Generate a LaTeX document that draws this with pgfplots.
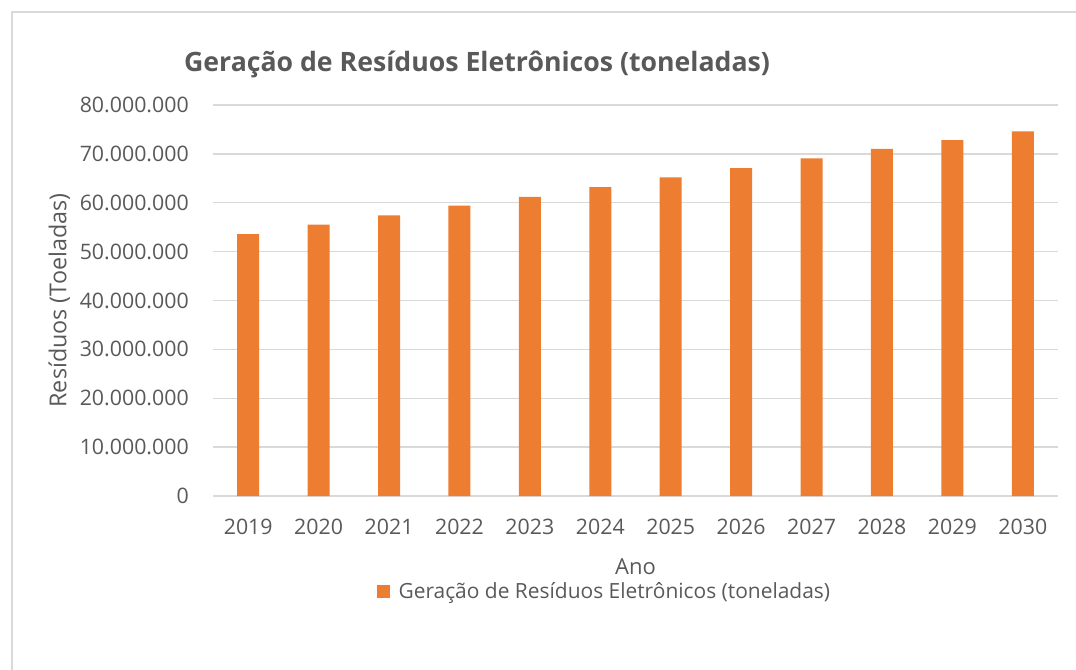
\documentclass[border=0pt]{standalone}
\usepackage{pgfplots}
\pgfplotsset{compat=1.18}
\usepackage{fontspec}
\setmainfont{Open Sans}
\definecolor{orng}{HTML}{ED7D31}
\definecolor{txt}{HTML}{595959}
\definecolor{grd}{HTML}{D9D9D9}
\begin{document}
\begin{tikzpicture}
\path[use as bounding box] (0,0) rectangle (807pt,501.75pt);
\draw[grd, line width=1.5pt] (9pt,-2pt) -- (9pt,492.75pt) -- (810pt,492.75pt);
\begin{axis}[
  at={(159.75pt,129.75pt)}, anchor=south west,
  scale only axis, width=633.75pt, height=293.25pt,
  xmin=-0.5, xmax=11.5, ymin=0, ymax=80000000,
  xtick={0,1,2,3,4,5,6,7,8,9,10,11},
  xticklabels={2019,2020,2021,2022,2023,2024,2025,2026,2027,2028,2029,2030},
  ytick={0,10000000,20000000,30000000,40000000,50000000,60000000,70000000,80000000},
  scaled y ticks=false,
  ymajorgrids, grid style={grd, line width=1pt},
  axis line style={draw=none}, tick style={draw=none},
  yticklabel style={/pgf/number format/fixed, /pgf/number format/1000 sep={.},
    /pgf/number format/assume math mode=true,
    anchor=east, inner sep=0pt, xshift=-18pt, font=\fontsize{16}{19}\selectfont, text=txt},
  xticklabel style={anchor=center, inner sep=0pt, yshift=-23.25pt,
    /pgf/number format/assume math mode=true,
    font=\fontsize{16}{19}\selectfont, text=txt},
  title={Geração de Resíduos Eletrônicos (toneladas)},
  title style={at={(axis description cs:0.3125,1.066)}, anchor=base, inner sep=0pt,
    font=\fontsize{20}{24}\selectfont\bfseries, text=txt},
  xlabel={Ano},
  xlabel style={at={(axis description cs:0.5,-0.202)}, anchor=base, inner sep=0pt,
    font=\fontsize{16.5}{19}\selectfont, text=txt},
  ylabel={Resíduos (Toeladas)},
  ylabel style={at={(axis description cs:-0.182,0.5)}, anchor=center, inner sep=0pt,
    font=\fontsize{17.5}{20}\selectfont, text=txt},
  legend style={at={(axis description cs:0.194,-0.243)}, anchor=west, draw=none,
    inner sep=0pt, fill=none, font=\fontsize{15.7}{19}\selectfont, text=txt,
    /tikz/every even column/.append style={column sep=0pt}},
  legend cell align=left,
]
\addplot[ybar, bar width=16.5pt, fill=orng, draw=none,
  legend image code/.code={\fill[orng] (0pt,-5pt) rectangle (9.75pt,4.75pt); \path (14pt,0pt);}]
  coordinates {
  (0,53600000) (1,55500000) (2,57400000) (3,59400000)
  (4,61200000) (5,63200000) (6,65200000) (7,67100000)
  (8,69100000) (9,71000000) (10,72800000) (11,74600000)
  };
\addlegendentry{Geração de Resíduos Eletrônicos (toneladas)}
\end{axis}
\end{tikzpicture}
\end{document}
